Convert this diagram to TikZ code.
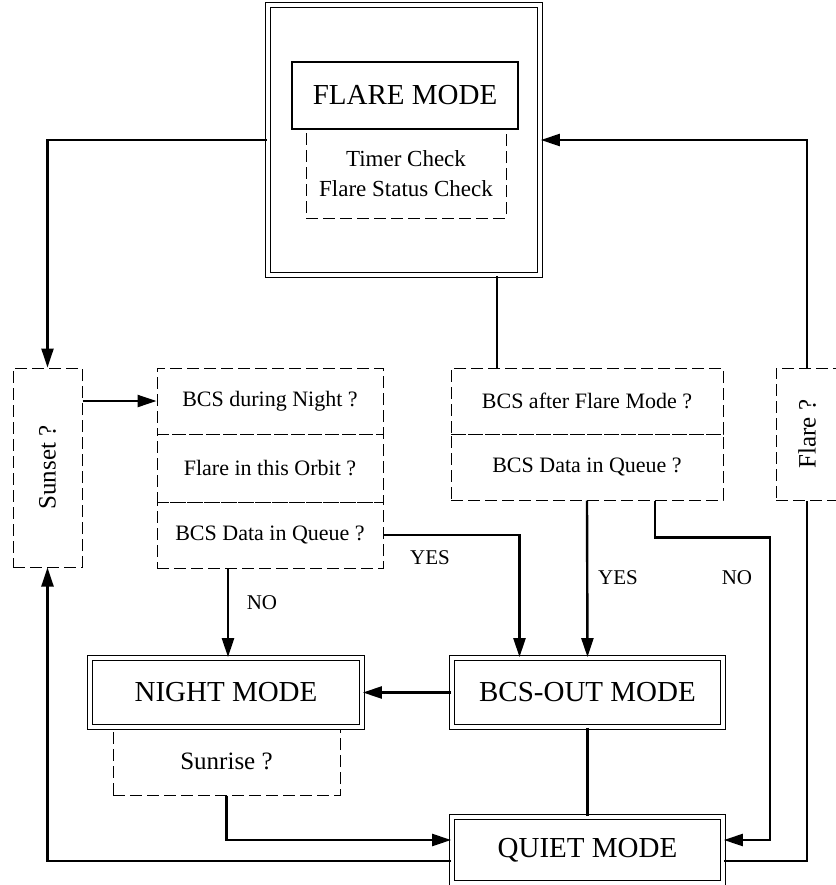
\documentclass[tikz,border=0pt]{standalone}
\usepackage{fontspec}
\setmainfont{Liberation Serif}
\usetikzlibrary{calc, arrows.meta}

\tikzset{
    modebox/.style={draw, line width=0.9pt, double=white, double distance=1.6pt, inner sep=0pt,
        font=\fontsize{14.5}{17}\selectfont},
    plainbox/.style={draw, line width=0.9pt, inner sep=0pt, font=\fontsize{14.5}{17}\selectfont},
    qbox/.style={draw, dashed, dash pattern=on 6pt off 2.5pt, line width=0.5pt, inner sep=0pt,
        font=\fontsize{11}{13}\selectfont},
    lbl/.style={inner sep=0pt, font=\fontsize{10.5}{13}\selectfont},
    arr/.style={-{Triangle[length=9.5pt,width=6pt]}},
}

\begin{document}
\begin{tikzpicture}[x=0.5pt, y=-0.5pt, line width=1.2pt]
    \useasboundingbox (0,0) rectangle (836,885);

    \node[modebox, minimum width=136pt, minimum height=135pt] (flare) at (404,140) {};
    \node[qbox, minimum width=100pt, minimum height=44.5pt, align=center,
        font=\fontsize{11.5}{15}\selectfont] (checks) at (406,173.5) {Timer Check\\Flare Status Check};
    \node[plainbox, minimum width=113pt, minimum height=33.5pt] (flaremode) at (405,95.5) {FLARE MODE};

    \node[qbox, minimum width=34.5pt, minimum height=99.5pt, font=\fontsize{12.5}{15}\selectfont]
        (sunset) at (47.5,467.5) {\rotatebox{90}{Sunset ?}};
    \foreach \n/\y/\h/\t in {1/401/33/BCS during Night ?, 2/468/34/Flare in this Orbit ?, 3/535/33/BCS Data in Queue ?}{
        \node[qbox, minimum width=113pt, minimum height=\h pt] (nightq\n) at (270,\y) {\t};
    }
    \foreach \n/\y/\t in {1/401/BCS after Flare Mode ?, 2/467/BCS Data in Queue ?}{
        \node[qbox, minimum width=136pt, minimum height=33pt] (afterq\n) at (587,\y) {\t};
    }
    \node[qbox, minimum width=31pt, minimum height=66pt, font=\fontsize{12.5}{14}\selectfont]
        (flareq) at (807,434) {\rotatebox{90}{Flare ?}};

    \node[qbox, minimum width=113.5pt, minimum height=34pt, font=\fontsize{12.5}{14}\selectfont]
        (sunrise) at (226.5,761) {Sunrise ?};
    \node[modebox, minimum width=136pt, minimum height=34.5pt] (night) at (226,692.5) {NIGHT MODE};
    \node[modebox, minimum width=135.5pt, minimum height=34.5pt] (bcsout) at (587.5,692.5) {BCS-OUT MODE};
    \node[modebox, minimum width=135.5pt, minimum height=33pt] (quiet) at (587.5,850) {QUIET MODE};

    \node[lbl] (yes1) at (430,558) {YES};
    \node[lbl] (no1) at (262,603) {NO};
    \node[lbl] (yes2) at (618,578) {YES};
    \node[lbl] (no2) at (737,578) {NO};

    \draw[arr] (flare.west) -| (sunset.north);
    \draw[arr] (sunset.east |- nightq1) -- (nightq1.west);
    \draw ([xshift=46.5pt]flare.south) -- ([xshift=46.5pt]flare.south |- afterq1.north);
    \draw[arr] (flareq.north) |- (flare.east);
    \draw[arr] (nightq3.east) -| ([xshift=-34pt]bcsout.north);
    \draw[arr] ([xshift=-21pt]nightq3.south) -- ([xshift=-21pt]nightq3.south |- night.north);
    \draw[arr] (afterq2.south) -- (bcsout.north);
    \draw[arr] ([xshift=34pt]afterq2.south) -- ++(0,37) -| ([xshift=23pt,yshift=5pt]quiet.east)
        -- ([yshift=5pt]quiet.east);
    \draw[arr] (bcsout) -- (night);
    \draw (bcsout) -- (quiet);
    \draw[arr] (sunrise.south) |- ([yshift=5pt]quiet.west);
    \draw[arr] ([yshift=-5.5pt]quiet.west) -| (sunset.south);
    \draw ([yshift=-5.5pt]quiet.east) -| (flareq.south);
\end{tikzpicture}
\end{document}
